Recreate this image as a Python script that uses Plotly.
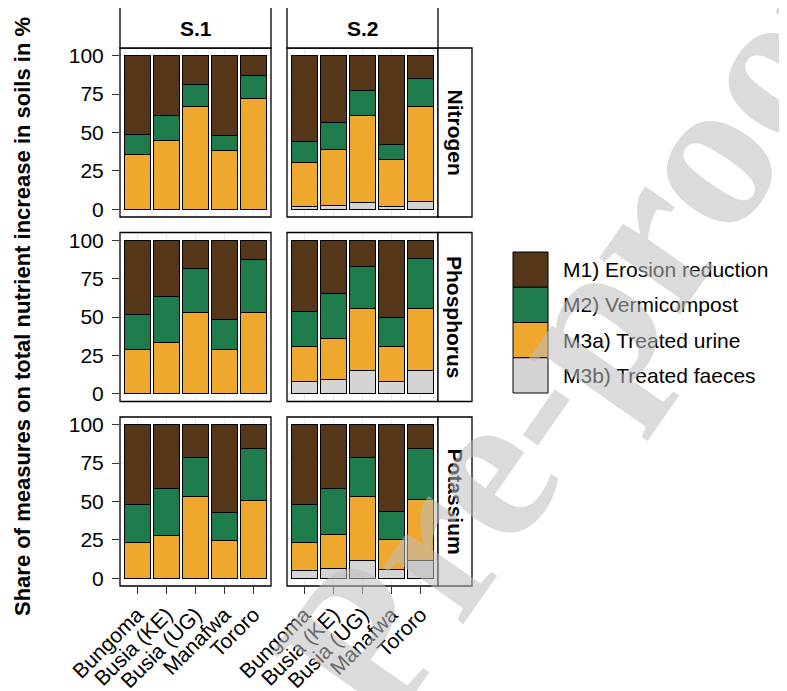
import plotly.graph_objects as go

# ---------------- data ----------------
districts = ["Bungoma", "Busia (KE)", "Busia (UG)", "Manafwa", "Tororo"]
nutrients = ["Nitrogen", "Phosphorus", "Potassium"]
scenarios = ["S.1", "S.2"]
measures = ["M1) Erosion reduction", "M2) Vermicompost", "M3a) Treated urine", "M3b) Treated faeces"]
y_ticks = [0, 25, 50, 75, 100]

# Nitrogen
n_s1_erosion = [51.0, 39.0, 19.0, 52.0, 13.0]
n_s1_vermi = [13.0, 16.0, 14.0, 10.0, 15.0]
n_s1_urine = [36.0, 45.0, 67.0, 38.0, 72.0]
n_s1_faeces = [0.0, 0.0, 0.0, 0.0, 0.0]
n_s2_erosion = [55.9, 43.7, 22.4, 57.6, 14.8]
n_s2_vermi = [13.7, 17.6, 16.3, 10.2, 18.2]
n_s2_urine = [28.4, 35.9, 56.7, 30.2, 62.0]
n_s2_faeces = [2.0, 2.8, 4.6, 2.0, 5.0]
# Phosphorus
p_s1_erosion = [48.1, 36.4, 18.2, 51.7, 12.8]
p_s1_vermi = [23.3, 30.3, 28.8, 19.5, 34.0]
p_s1_urine = [28.6, 33.3, 53.0, 28.8, 53.2]
p_s1_faeces = [0.0, 0.0, 0.0, 0.0, 0.0]
p_s2_erosion = [46.3, 34.6, 17.1, 50.0, 12.1]
p_s2_vermi = [23.2, 29.7, 27.3, 19.1, 32.3]
p_s2_urine = [22.5, 26.2, 40.2, 22.7, 40.7]
p_s2_faeces = [8.0, 9.5, 15.4, 8.2, 14.9]
# Potassium
k_s1_erosion = [52.2, 41.6, 21.2, 56.9, 15.6]
k_s1_vermi = [24.4, 30.5, 25.8, 18.2, 33.5]
k_s1_urine = [23.4, 27.9, 53.0, 24.9, 50.9]
k_s1_faeces = [0.0, 0.0, 0.0, 0.0, 0.0]
k_s2_erosion = [52.2, 41.6, 21.2, 56.7, 15.6]
k_s2_vermi = [24.4, 30.0, 25.6, 18.0, 33.1]
k_s2_urine = [18.0, 21.9, 41.3, 19.5, 39.6]
k_s2_faeces = [5.4, 6.5, 11.9, 5.8, 11.7]

table = {
    ("Nitrogen", "S.1"): [n_s1_erosion, n_s1_vermi, n_s1_urine, n_s1_faeces],
    ("Nitrogen", "S.2"): [n_s2_erosion, n_s2_vermi, n_s2_urine, n_s2_faeces],
    ("Phosphorus", "S.1"): [p_s1_erosion, p_s1_vermi, p_s1_urine, p_s1_faeces],
    ("Phosphorus", "S.2"): [p_s2_erosion, p_s2_vermi, p_s2_urine, p_s2_faeces],
    ("Potassium", "S.1"): [k_s1_erosion, k_s1_vermi, k_s1_urine, k_s1_faeces],
    ("Potassium", "S.2"): [k_s2_erosion, k_s2_vermi, k_s2_urine, k_s2_faeces],
}

colors = ["#553619", "#1E7B4B", "#EDA82D", "#D4D4D4"]

# ---------------- layout geometry (screen pixels) ----------------
OFF = 8                      # page body margin of the browser
W, H = 787 - OFF, 691 - OFF  # figure size
FONT = "Liberation Sans, Arial, sans-serif"
col_px = [(120, 271), (287, 438)]
row_px = [(48, 217), (232.5, 401.5), (417, 586)]


def fx(px):
    return (px - OFF) / W


def fy(py):
    return 1 - (py - OFF) / H


fig = go.Figure()
layout = dict(
    template="none",
    width=W, height=H,
    margin=dict(l=0, r=0, t=0, b=0, pad=0, autoexpand=False),
    paper_bgcolor="white", plot_bgcolor="white",
    showlegend=False, barmode="stack", bargap=0.1,
)
shapes = []
annotations = []

for r, nut in enumerate(nutrients):
    for c, sc in enumerate(scenarios):
        idx = r * 2 + c + 1
        xa = "x" if idx == 1 else f"x{idx}"
        ya = "y" if idx == 1 else f"y{idx}"
        vals = table[(nut, sc)]
        # bottom to top: faeces, urine, vermicompost, erosion
        for m in [3, 2, 1, 0]:
            fig.add_trace(go.Bar(
                x=districts, y=vals[m], name=measures[m],
                marker=dict(color=colors[m], line=dict(color="black", width=1)),
                width=0.9, xaxis=xa, yaxis=ya, showlegend=False,
            ))
        x0, x1 = col_px[c]
        y0, y1 = row_px[r]
        bottom = (r == len(nutrients) - 1)
        left = (c == 0)
        layout["xaxis" if idx == 1 else f"xaxis{idx}"] = dict(
            domain=[fx(x0), fx(x1)], anchor=ya, automargin=False,
            type="category", categoryorder="array", categoryarray=districts,
            range=[-0.6, 4.6],
            showgrid=True, gridcolor="#EBEBEB", gridwidth=1,
            showline=False, zeroline=False,
            ticks="outside" if bottom else "", ticklen=7, tickcolor="#333333", tickwidth=1.2,
            showticklabels=bottom, tickangle=-45,
            tickfont=dict(family=FONT, size=21, color="black"),
        )
        layout["yaxis" if idx == 1 else f"yaxis{idx}"] = dict(
            domain=[fy(y1), fy(y0)], anchor=xa, automargin=False,
            range=[-5, 105], tickvals=y_ticks,
            showgrid=True, gridcolor="#EBEBEB", gridwidth=1,
            minor=dict(dtick=12.5, tick0=0, showgrid=True, gridcolor="#F2F2F2", gridwidth=0.6),
            showline=False, zeroline=False,
            ticks="outside" if left else "", ticklen=7, tickcolor="#333333", tickwidth=1.2,
            showticklabels=left, ticklabelstandoff=4,
            tickfont=dict(family=FONT, size=21, color="black"),
        )
        # panel border
        shapes.append(dict(type="rect", xref="paper", yref="paper",
                           x0=fx(x0), x1=fx(x1), y0=fy(y1), y1=fy(y0),
                           line=dict(color="black", width=1.3), layer="above"))

# top strips
for c, sc in enumerate(scenarios):
    x0, x1 = col_px[c]
    shapes.append(dict(type="rect", xref="paper", yref="paper",
                       x0=fx(x0), x1=fx(x1), y0=fy(48), y1=fy(7),
                       fillcolor="white", line=dict(color="black", width=1.3)))
    annotations.append(dict(x=fx((x0 + x1) / 2), y=fy(28), xref="paper", yref="paper",
                            xanchor="center", yanchor="middle",
                            text=sc, showarrow=False,
                            font=dict(family=FONT, size=21, color="black", weight="bold")))

# right strips
for r, nut in enumerate(nutrients):
    y0, y1 = row_px[r]
    shapes.append(dict(type="rect", xref="paper", yref="paper",
                       x0=fx(438), x1=fx(472), y0=fy(y1), y1=fy(y0),
                       fillcolor="white", line=dict(color="black", width=1.3)))
    annotations.append(dict(x=fx(455), y=fy((y0 + y1) / 2), xref="paper", yref="paper",
                            xanchor="center", yanchor="middle",
                            text=nut, showarrow=False, textangle=90,
                            font=dict(family=FONT, size=21, color="black", weight="bold")))

# y-axis title
annotations.append(dict(x=fx(22), y=fy(317), xref="paper", yref="paper",
                        xanchor="center", yanchor="middle",
                        text="Share of measures on total nutrient increase in soils in %",
                        showarrow=False, textangle=-90,
                        font=dict(family=FONT, size=22, color="black", weight="bold")))

# legend (manual, ggplot-style keys)
key_x0, key_x1 = 513, 548
key_top, key_h = 252, 35.25
for i, m in enumerate(measures):
    ty = key_top + i * key_h
    shapes.append(dict(type="rect", xref="paper", yref="paper",
                       x0=fx(key_x0), x1=fx(key_x1), y0=fy(ty + key_h), y1=fy(ty),
                       fillcolor=colors[i], line=dict(color="black", width=1)))
    annotations.append(dict(x=fx(561), y=fy(ty + key_h / 2), xref="paper", yref="paper",
                            xanchor="left", yanchor="middle", text=m, showarrow=False,
                            font=dict(family=FONT, size=21, color="black")))

# watermark
annotations.append(dict(x=fx(580), y=fy(330), xref="paper", yref="paper",
                        xanchor="center", yanchor="middle",
                        text="Pre-proof", showarrow=False, textangle=-55,
                        font=dict(family="Liberation Serif, Times New Roman, serif", size=215,
                                  color="rgba(190,190,190,0.55)", weight="bold")))

layout["shapes"] = shapes
layout["annotations"] = annotations
fig.update_layout(**layout)
fig.write_html("out.html")
